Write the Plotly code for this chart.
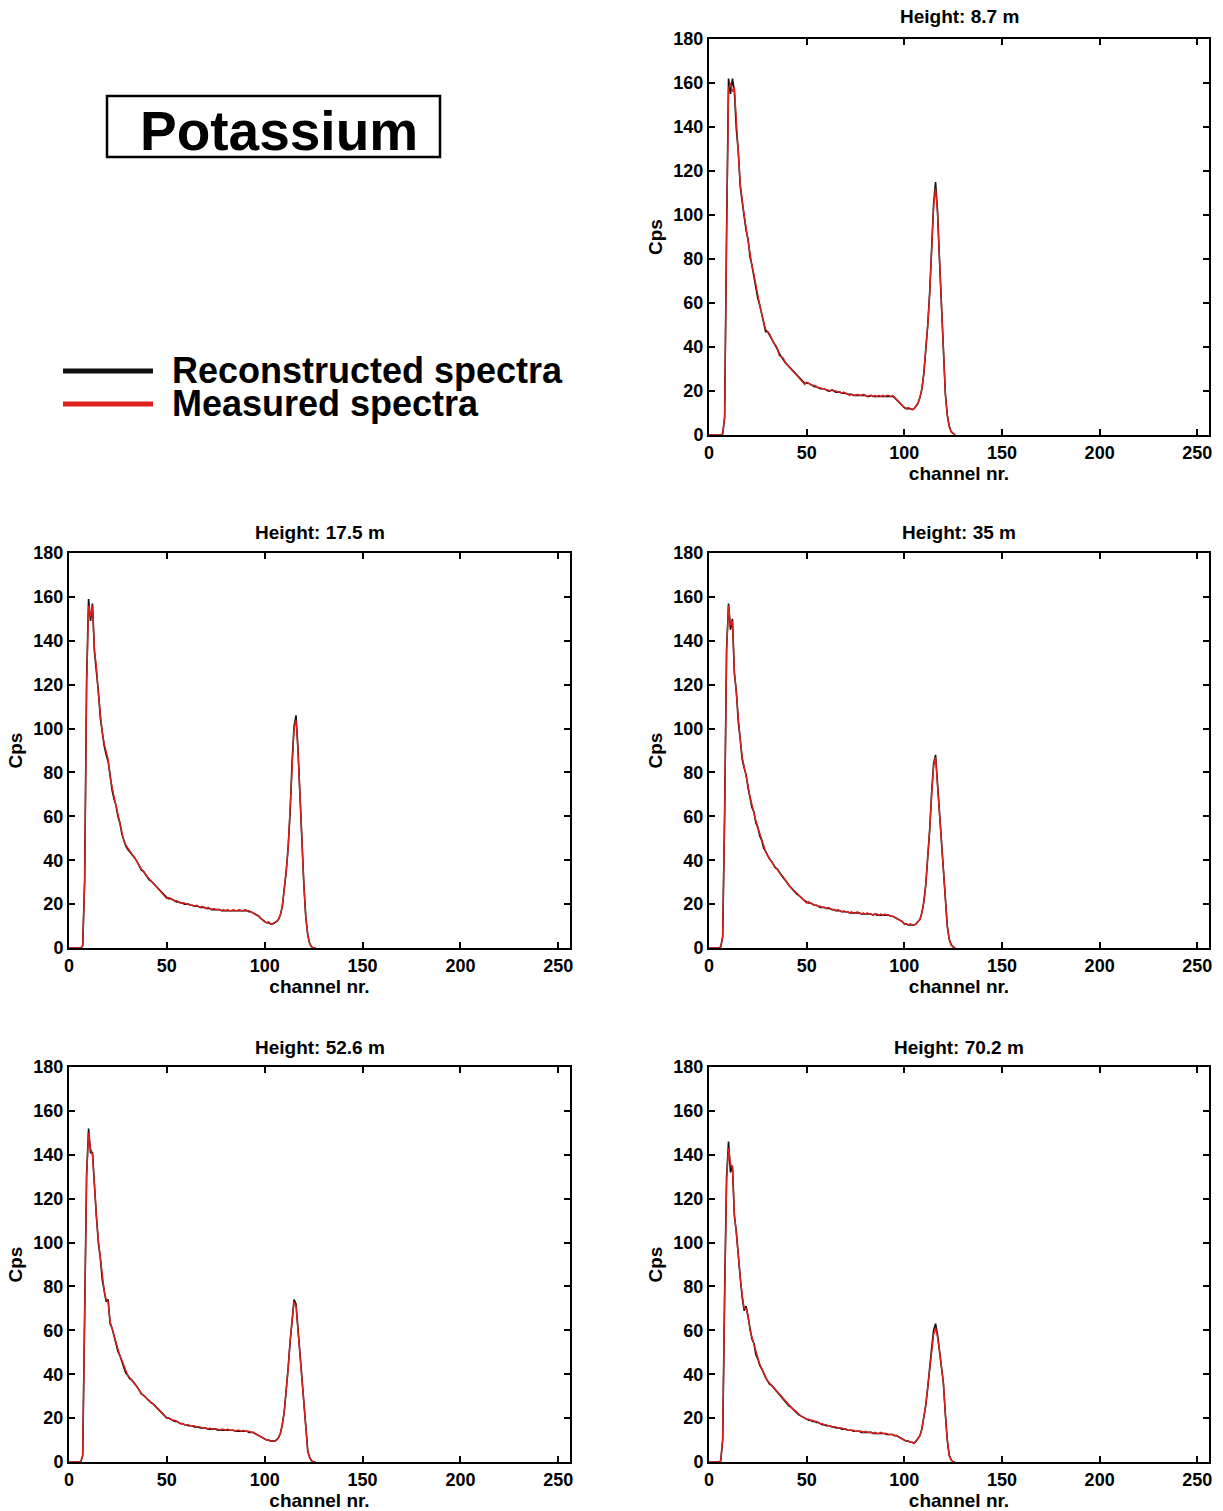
import plotly.graph_objects as go

# ---------------- data (channel 0..126; counts per second) ----------------
channels = list(range(127))

heights = ["Height: 8.7 m", "Height: 17.5 m", "Height: 35 m", "Height: 52.6 m", "Height: 70.2 m"]

meas_8_7 = [
    0, 0, 0, 0, 0, 0, 0, 0.5, 8, 90,
    157, 160, 156, 158, 140, 128, 114, 106, 100, 94,
    88, 82, 77, 73, 68, 63, 59, 55, 51, 48,
    47, 46, 44, 42, 41, 39.5, 36, 35.5, 35, 33,
    32, 31.5, 30, 29.5, 28, 27, 26, 25.5, 24.5, 23,
    24, 23.5, 23, 22.5, 22.5, 22, 21.5, 21.5, 21, 21,
    20.5, 20.5, 20, 20.5, 20, 20, 19.5, 19.5, 19, 19.5,
    19, 18.5, 18, 18.5, 18, 18, 18.5, 18, 18, 18.5,
    18, 17.5, 18, 18, 17.5, 18, 17.5, 18, 17.5, 18,
    17.5, 18, 18, 17.5, 18, 17, 16, 15.5, 14.5, 13.5,
    12.5, 12, 12.5, 12, 11.5, 12, 13, 14.5, 17, 21,
    28, 38, 50, 64, 86, 104, 112, 101, 80, 57,
    36, 19, 9, 4, 1.5, 0.5, 0]
reco_8_7 = [
    0, 0, 0, 0, 0, 0, 0, 0.5, 8, 92,
    162, 155, 162, 156, 139, 129, 113, 106, 99, 93,
    89, 81, 77, 72, 68, 62, 59, 55, 50, 47,
    47, 45.5, 44, 42.5, 40.5, 39, 37, 35.5, 34.5, 33,
    32, 31, 30, 29.5, 28, 27, 26, 25, 24.5, 23.5,
    23.5, 23.5, 23, 22.5, 22, 22, 21.5, 21, 21, 21,
    20.5, 20, 20, 20.5, 20, 19.5, 19.5, 19.5, 19, 19,
    19, 18.5, 18.5, 18.5, 18, 18, 18, 18, 18, 18,
    18, 17.5, 17.5, 18, 17.5, 17.5, 17.5, 17.5, 17.5, 17.5,
    17.5, 17.5, 17.5, 17.5, 17.5, 17, 16, 15, 14.5, 13.5,
    12.5, 12, 12, 12, 11.5, 12, 13, 14.5, 17, 21,
    28, 38, 50, 65, 87, 105, 115, 102, 80, 57,
    36, 19, 9, 4, 1.5, 0.5, 0]

meas_17_5 = [
    0, 0, 0, 0, 0, 0, 0, 1, 30, 120,
    156, 151, 156, 136, 128, 116, 106, 98, 93, 89,
    86, 78, 73, 69, 65, 61, 57, 53, 49, 47,
    45.5, 44, 43, 42, 40.5, 39, 37, 36, 35, 33.5,
    32.5, 31.5, 30.5, 30, 29, 27.5, 26.5, 25.5, 24.5, 23.5,
    22.5, 23, 22.5, 22, 21.5, 21.5, 21, 20.5, 20.5, 20.5,
    20, 20, 19.5, 19.5, 19, 19.5, 19, 18.5, 19, 18.5,
    18, 18.5, 18, 17.5, 18, 17.5, 17.5, 17.5, 17, 17.5,
    17, 17.5, 17, 17, 17.5, 17, 17, 17.5, 17, 17,
    17.5, 17, 17, 16.5, 16, 15.5, 15, 14.5, 13.5, 12.5,
    12, 11.5, 12, 11, 11, 11.5, 12, 13, 15, 19,
    26, 35, 46, 62, 84, 100, 104, 90, 70, 48,
    29, 14, 6, 2, 0.5, 0, 0]
reco_17_5 = [
    0, 0, 0, 0, 0, 0, 0, 1, 31, 122,
    159, 149, 157, 135, 127, 117, 105, 98, 92, 88,
    85, 79, 72, 68, 65, 60, 57, 52, 49, 46.5,
    45, 44, 43, 41.5, 40.5, 39, 37, 35.5, 35, 33.5,
    32.5, 31, 30.5, 29.5, 29, 27.5, 26.5, 25.5, 24.5, 23.5,
    23, 22.5, 22.5, 22, 21.5, 21, 21, 20.5, 20.5, 20,
    20, 20, 19.5, 19.5, 19, 19, 19, 18.5, 18.5, 18.5,
    18, 18, 18, 17.5, 17.5, 17.5, 17.5, 17.5, 17, 17,
    17, 17, 17, 17, 17, 17, 17, 17, 17, 17,
    17, 17, 16.5, 16.5, 16, 15.5, 15, 14.5, 13.5, 12.5,
    12, 11.5, 11.5, 11, 11, 11.5, 12, 13, 15, 19,
    26, 35, 46, 62, 85, 101, 106, 91, 70, 48,
    29, 14, 6, 2, 0.5, 0, 0]

meas_35 = [
    0, 0, 0, 0, 0, 0, 0.5, 5, 60, 135,
    156, 147, 149, 126, 116, 104, 95, 87, 83, 79,
    74, 69, 65, 62, 58, 55, 52, 49, 46, 44,
    42, 41, 39.5, 38, 37, 36, 34.5, 33, 32.5, 31,
    29.5, 28.5, 27.5, 26.5, 25.5, 25, 24, 23, 22, 21.5,
    20.5, 21, 20.5, 20, 19.5, 19.5, 19, 19, 18.5, 18.5,
    18, 18.5, 18, 17.5, 17.5, 17, 17.5, 17, 16.5, 17,
    16.5, 16.5, 16, 16.5, 16, 16, 16.5, 16, 15.5, 16,
    15.5, 16, 15.5, 15.5, 15, 15.5, 15.5, 15, 15.5, 15,
    15.5, 15, 15, 14.5, 14.5, 14, 13.5, 13, 12.5, 12,
    11, 11, 10.5, 11, 10.5, 10.5, 11, 12, 13, 16,
    21, 29, 41, 54, 70, 83, 87, 74, 60, 47,
    34, 20, 10, 4, 1.5, 0.5, 0]
reco_35 = [
    0, 0, 0, 0, 0, 0, 0.5, 5, 61, 136,
    157, 145, 150, 125, 117, 103, 95, 86, 82, 79,
    73, 69, 64, 62, 57, 55, 51, 49, 45.5, 44,
    42, 40.5, 39.5, 38, 36.5, 36, 34.5, 33, 32, 31,
    29.5, 28.5, 27.5, 26.5, 25.5, 24.5, 24, 23, 22, 21.5,
    21, 20.5, 20.5, 20, 19.5, 19.5, 19, 18.5, 18.5, 18.5,
    18, 18, 18, 17.5, 17.5, 17, 17, 17, 16.5, 16.5,
    16.5, 16.5, 16, 16, 16, 16, 16, 16, 15.5, 15.5,
    15.5, 15.5, 15.5, 15.5, 15, 15.5, 15, 15, 15, 15,
    15, 15, 15, 14.5, 14.5, 14, 13.5, 13, 12.5, 12,
    11, 11, 10.5, 10.5, 10.5, 10.5, 11, 12, 13, 16,
    21, 29, 41, 54, 71, 84, 88, 75, 60, 47,
    34, 20, 10, 4, 1.5, 0.5, 0]

meas_52_6 = [
    0, 0, 0, 0, 0, 0, 0, 3, 60, 130,
    150, 143, 140, 125, 112, 101, 93, 84, 78, 74,
    73, 64, 61, 58, 54, 51, 48.5, 46.5, 44, 41,
    39.5, 38.5, 37.5, 36.5, 35.5, 34, 32.5, 31, 30.5, 29.5,
    28.5, 28, 27, 26.5, 25.5, 24.5, 23.5, 22.5, 21.5, 20.5,
    20, 20, 19.5, 19, 19, 18.5, 18, 17.5, 17.5, 17,
    17, 17, 16.5, 16.5, 16.5, 16, 16, 16, 15.5, 15.5,
    15.5, 15, 15.5, 15, 15, 15, 15, 14.5, 15, 15,
    14.5, 15, 14.5, 14.5, 14.5, 14, 14.5, 14.5, 14, 14.5,
    14, 14, 14, 13.5, 13.5, 13, 12.5, 12, 11.5, 11,
    10.5, 10, 10, 9.5, 9.5, 9.5, 10, 11, 13, 17,
    23, 32, 43, 55, 65, 73, 71, 60, 49, 38,
    25, 13, 5, 2, 0.5, 0, 0]
reco_52_6 = [
    0, 0, 0, 0, 0, 0, 0, 3, 61, 131,
    152, 141, 141, 124, 112, 100, 93, 83, 78, 73,
    74, 63, 61, 57, 54, 50.5, 48.5, 46, 44, 40.5,
    39.5, 38, 37.5, 36.5, 35, 34, 32.5, 31, 30.5, 29.5,
    28.5, 27.5, 27, 26.5, 25.5, 24.5, 23.5, 22.5, 21.5, 21,
    20, 20, 19.5, 19, 18.5, 18.5, 18, 17.5, 17.5, 17,
    17, 16.5, 16.5, 16.5, 16, 16, 16, 15.5, 15.5, 15.5,
    15.5, 15, 15, 15, 15, 15, 14.5, 14.5, 14.5, 14.5,
    14.5, 14.5, 14.5, 14.5, 14.5, 14, 14, 14, 14, 14,
    14, 14, 13.5, 13.5, 13.5, 13, 12.5, 12, 11.5, 11,
    10.5, 10, 10, 9.5, 9.5, 9.5, 10, 11, 13, 17,
    23, 32, 43, 55, 66, 74, 72, 61, 49, 38,
    25, 13, 5, 2, 0.5, 0, 0]

meas_70_2 = [
    0, 0, 0, 0, 0, 0, 0.5, 10, 75, 128,
    143, 136, 134, 113, 104, 93, 84, 76, 70, 70,
    67, 60, 57, 54, 50, 47, 44.5, 42.5, 40.5, 38.5,
    37, 36, 35, 34, 33, 32, 30.5, 29.5, 28.5, 27.5,
    26.5, 26, 25, 24, 23.5, 22.5, 22, 21, 20.5, 20,
    19.5, 19.5, 19, 19, 18.5, 18.5, 18, 17.5, 17.5, 17,
    17, 16.5, 16.5, 16, 16, 16, 15.5, 15.5, 15.5, 15,
    15, 14.5, 14.5, 14.5, 14.5, 14, 14, 14, 14, 13.5,
    14, 13.5, 13.5, 13.5, 13, 13.5, 13, 13, 13.5, 13,
    13, 13, 12.5, 12.5, 12.5, 12, 12, 11.5, 11, 10.5,
    10, 9.5, 9.5, 9, 9, 8.5, 9.5, 10.5, 12, 15,
    20, 26, 34, 43, 50, 58, 61, 57, 51, 44,
    36, 22, 10, 3, 1, 0, 0]
reco_70_2 = [
    0, 0, 0, 0, 0, 0, 0.5, 10, 77, 130,
    146, 132, 135, 112, 105, 92, 84, 75, 69, 71,
    66, 60, 56, 54, 49, 47, 44, 42.5, 40, 38.5,
    37, 35.5, 35, 34, 32.5, 32, 30.5, 29.5, 28.5, 27.5,
    26.5, 25.5, 25, 24, 23.5, 22.5, 21.5, 21, 20.5, 20,
    19.5, 19, 19, 18.5, 18.5, 18, 18, 17.5, 17, 17,
    16.5, 16.5, 16.5, 16, 16, 15.5, 15.5, 15.5, 15, 15,
    15, 14.5, 14.5, 14.5, 14, 14, 14, 14, 13.5, 13.5,
    13.5, 13.5, 13.5, 13.5, 13, 13, 13, 13, 13, 13,
    13, 12.5, 12.5, 12.5, 12.5, 12, 12, 11.5, 11, 10.5,
    10, 9.5, 9.5, 9, 9, 8.5, 9.5, 10.5, 12, 15,
    20, 26, 34, 44, 52, 60, 63, 58, 51, 44,
    36, 22, 10, 3, 1, 0, 0]

x_ticks = [0, 50, 100, 150, 200, 250]
y_ticks = [0, 20, 40, 60, 80, 100, 120, 140, 160, 180]

reconstructed = [reco_8_7, reco_17_5, reco_35, reco_52_6, reco_70_2]
measured = [meas_8_7, meas_17_5, meas_35, meas_52_6, meas_70_2]

# ---------------- layout geometry ----------------
W, H = 1223, 1511
def px_x(p): return p / W
def px_y(p): return 1 - p / H

xdom_left = [px_x(69), px_x(570)]
xdom_right = [px_x(709), px_x(1209)]
ydom_top = [px_y(435), px_y(39)]
ydom_mid = [px_y(948), px_y(553)]
ydom_bot = [px_y(1462), px_y(1067)]

panels = [
    (xdom_right, ydom_top, 17),
    (xdom_left, ydom_mid, 532),
    (xdom_right, ydom_mid, 532),
    (xdom_left, ydom_bot, 1047),
    (xdom_right, ydom_bot, 1047),
]

BLACK = "#111111"
RED = "#e0201c"
FONT = "Liberation Sans, Arial, sans-serif"

fig = go.Figure()
layout = dict(
    template="none",
    width=W, height=H,
    margin=dict(l=0, r=0, t=0, b=0, pad=0, autoexpand=False),
    paper_bgcolor="white", plot_bgcolor="white",
    showlegend=False,
    font=dict(family=FONT, color="black"),
)
annotations = []
shapes = []

for i, (xd, yd, title_y) in enumerate(panels):
    n = "" if i == 0 else str(i + 1)
    xa, ya = "x" + n, "y" + n
    fig.add_trace(go.Scatter(x=channels, y=reconstructed[i], mode="lines",
                             line=dict(color=BLACK, width=1.6), xaxis=xa, yaxis=ya,
                             name="Reconstructed spectra"))
    fig.add_trace(go.Scatter(x=channels, y=measured[i], mode="lines",
                             line=dict(color=RED, width=1.4), xaxis=xa, yaxis=ya,
                             name="Measured spectra"))
    axis_common = dict(showline=True, linewidth=2, linecolor="black", mirror="ticks",
                       ticks="inside", ticklen=6, tickwidth=2, tickcolor="black",
                       showgrid=False, zeroline=False, automargin=False,
                       tickfont=dict(family=FONT, size=18, weight="bold", color="black"))
    layout["xaxis" + n] = dict(domain=xd, anchor=ya, range=[0, 256], tickvals=x_ticks,
                               title=dict(text="channel nr.", standoff=0,
                                          font=dict(family=FONT, size=19, weight="bold")),
                               **axis_common)
    layout["yaxis" + n] = dict(domain=yd, anchor=xa, range=[0, 180], tickvals=y_ticks,
                               title=dict(text="Cps", standoff=6,
                                          font=dict(family=FONT, size=19, weight="bold")),
                               **axis_common)
    annotations.append(dict(text="<b>" + heights[i] + "</b>", x=(xd[0] + xd[1]) / 2,
                            y=px_y(title_y), xref="paper", yref="paper",
                            xanchor="center", yanchor="middle", showarrow=False,
                            font=dict(family=FONT, size=19, color="black")))

# Title box
shapes.append(dict(type="rect", xref="paper", yref="paper",
                   x0=px_x(107), x1=px_x(440), y0=px_y(157), y1=px_y(96),
                   line=dict(color="black", width=2.5), fillcolor="white"))
annotations.append(dict(text="<b>Potassium</b>", x=px_x(279), y=px_y(131),
                        xref="paper", yref="paper", xanchor="center", yanchor="middle",
                        showarrow=False, font=dict(family=FONT, size=55, color="black")))

# Legend
legend_items = [("Reconstructed spectra", BLACK, 371), ("Measured spectra", RED, 404)]
for label, color, yp in legend_items:
    shapes.append(dict(type="line", xref="paper", yref="paper",
                       x0=px_x(63), x1=px_x(153), y0=px_y(yp), y1=px_y(yp),
                       line=dict(color=color, width=5)))
    annotations.append(dict(text="<b>" + label + "</b>", x=px_x(170), y=px_y(yp),
                            xref="paper", yref="paper", xanchor="left", yanchor="middle",
                            showarrow=False, font=dict(family=FONT, size=36, color="black")))

layout["annotations"] = annotations
layout["shapes"] = shapes
fig.update_layout(**layout)
fig.write_html("out.html")
